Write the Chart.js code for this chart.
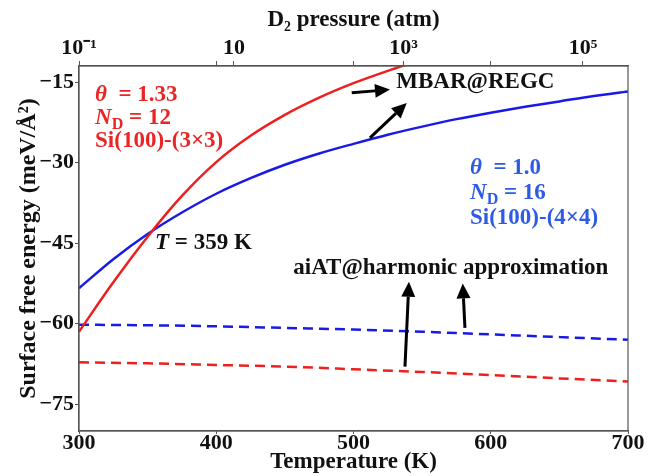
<!DOCTYPE html>
<html>
<head>
<meta charset="utf-8">
<script src="https://cdn.jsdelivr.net/npm/chart.js@4.4.1/dist/chart.umd.min.js"></script>
<style>
  html, body { margin: 0; padding: 0; background: #fff; }
  #wrap { width: 660px; height: 476px; position: relative; }
</style>
</head>
<body>
<div id="wrap"><canvas id="myChart"></canvas></div>
<script>
// temperature grid (K)
const tempRed = [300, 325, 350, 375, 400, 425, 450, 475, 500, 525, 550];
const tempBlue = [300, 325, 350, 375, 400, 425, 450, 475, 500, 525, 550, 575, 600, 625, 650, 675, 700];
const tempHarm = [300, 350, 400, 450, 500, 550, 600, 650, 700];

// surface free energy (meV/A^2)
const mbarRed = [-61.5, -52.3, -43.8, -36.2, -29.9, -25.0, -21.1, -17.9, -15.2, -12.9, -10.8];
const mbarBlue = [-53.4, -48.0, -43.3, -39.3, -35.8, -32.9, -30.4, -28.3, -26.5, -24.8, -23.3, -21.9, -20.7, -19.6, -18.6, -17.6, -16.75];
const harmBlue = [-60.2, -60.3, -60.5, -60.8, -61.1, -61.5, -62.0, -62.5, -63.0];
const harmRed = [-67.2, -67.4, -67.7, -68.0, -68.5, -69.0, -69.6, -70.2, -70.8];

// axis ticks
const tempTicks = [300, 400, 500, 600, 700];
const energyTicks = [-15, -30, -45, -60, -75];
const pressureAtT = [300, 412.9, 536.4, 667.2];
const pressureLabels = ['10\u207B\u00B9', '10', '10\u00B3', '10\u2075'];

const RED = '#ee1f1f';
const BLUE = '#1a1ae6';
const RED_TXT = '#ea2525';
const BLUE_TXT = '#2d5be3';
const FONT = "'Liberation Serif', 'Times New Roman', serif";

const pts = (xs, ys) => xs.map((t, i) => ({ x: t, y: ys[i] }));

// annotation positions in data units (T, E)
const notes = [
  { T: 311.7, E: -17.4, color: RED_TXT, parts: [{ t: '\u03B8', it: true }, { t: '  = 1.33' }] },
  { T: 311.7, E: -21.7, color: RED_TXT, parts: [{ t: 'N', it: true }, { t: 'D', sub: true }, { t: ' = 12' }] },
  { T: 311.7, E: -25.9, color: RED_TXT, parts: [{ t: 'Si(100)-(3\u00D73)' }] },
  { T: 584.9, E: -31.0, color: BLUE_TXT, parts: [{ t: '\u03B8', it: true }, { t: '  = 1.0' }] },
  { T: 584.9, E: -35.6, color: BLUE_TXT, parts: [{ t: 'N', it: true }, { t: 'D', sub: true }, { t: ' = 16' }] },
  { T: 584.9, E: -40.3, color: BLUE_TXT, parts: [{ t: 'Si(100)-(4\u00D74)' }] },
  { T: 355.4, E: -44.9, color: '#111', parts: [{ t: 'T', it: true }, { t: ' = 359 K' }] },
  { T: 531.2, E: -14.9, color: '#111', parts: [{ t: 'MBAR@REGC' }] },
  { T: 456.1, E: -49.6, color: '#111', parts: [{ t: 'aiAT@harmonic approximation' }] }
];
const arrows = [
  [498.7, -17.0, 526.6, -16.4],
  [512.0, -25.4, 538.8, -18.9],
  [537.5, -68.0, 540.4, -52.2],
  [581.2, -60.8, 579.6, -52.5]
];

function drawRich(ctx, x, y, parts, color, size) {
  ctx.fillStyle = color;
  ctx.textBaseline = 'middle';
  ctx.textAlign = 'left';
  let cx = x;
  parts.forEach(p => {
    const s = p.sub ? size * 0.7 : size;
    ctx.font = (p.it ? 'italic ' : '') + 'bold ' + s + 'px ' + FONT;
    ctx.fillText(p.t, cx, p.sub ? y + size * 0.3 : y);
    cx += ctx.measureText(p.t).width;
  });
}

const annotations = {
  id: 'annotations',
  afterDatasetsDraw(chart) {
    const { ctx, chartArea: a, scales: { x, y } } = chart;
    ctx.save();
    // frame
    ctx.strokeStyle = '#555';
    ctx.lineWidth = 1.2;
    ctx.strokeRect(a.left, a.top, a.right - a.left, a.bottom - a.top);

    notes.forEach(n => drawRich(ctx, x.getPixelForValue(n.T), y.getPixelForValue(n.E), n.parts, n.color, 23));

    ctx.strokeStyle = '#000';
    ctx.fillStyle = '#000';
    arrows.forEach(([t0, e0, t1, e1]) => {
      const x0 = x.getPixelForValue(t0), y0 = y.getPixelForValue(e0);
      const x1 = x.getPixelForValue(t1), y1 = y.getPixelForValue(e1);
      const ang = Math.atan2(y1 - y0, x1 - x0);
      const hl = 15, hw = 7;
      const bx = x1 - hl * Math.cos(ang), by = y1 - hl * Math.sin(ang);
      ctx.lineWidth = 3;
      ctx.beginPath();
      ctx.moveTo(x0, y0);
      ctx.lineTo(bx, by);
      ctx.stroke();
      ctx.beginPath();
      ctx.moveTo(x1, y1);
      ctx.lineTo(bx + hw * Math.sin(ang), by - hw * Math.cos(ang));
      ctx.lineTo(bx - hw * Math.sin(ang), by + hw * Math.cos(ang));
      ctx.closePath();
      ctx.fill();
    });
    ctx.restore();
  }
};

const ctx = document.getElementById('myChart');

const lineStyle = { borderWidth: 2.5, tension: 0.4, cubicInterpolationMode: 'monotone', pointRadius: 0, fill: false };

const chart = new Chart(ctx, {
  type: 'line',
  data: {
    datasets: [
      { label: 'MBAR 1.33', data: pts(tempRed, mbarRed), borderColor: RED, ...lineStyle },
      { label: 'MBAR 1.0', data: pts(tempBlue, mbarBlue), borderColor: BLUE, ...lineStyle },
      { label: 'aiAT 1.0', data: pts(tempHarm, harmBlue), borderColor: BLUE, borderDash: [10, 6], ...lineStyle },
      { label: 'aiAT 1.33', data: pts(tempHarm, harmRed), borderColor: RED, borderDash: [10, 6], ...lineStyle }
    ]
  },
  options: {
    responsive: true,
    maintainAspectRatio: false,
    animation: false,
    devicePixelRatio: 1,
    layout: { padding: { left: 0, right: 32, top: 0, bottom: 0 } },
    plugins: { legend: { display: false }, tooltip: { enabled: false } },
    scales: {
      x: {
        type: 'linear', position: 'bottom', min: 300, max: 700,
        afterBuildTicks: s => { s.ticks = tempTicks.map(v => ({ value: v })); },
        afterFit: s => { s.height = 45; },
        border: { color: '#555', width: 1.2 },
        grid: { display: true, drawOnChartArea: false, tickLength: 3, color: '#555' },
        ticks: { color: '#111', padding: -4, maxRotation: 0, font: { family: FONT, weight: 'bold', size: 22 } },
        title: { display: true, text: 'Temperature (K)', color: '#111', padding: { top: -6, bottom: 0 }, font: { family: FONT, weight: 'bold', size: 23 } }
      },
      x2: {
        type: 'linear', position: 'top', min: 300, max: 700,
        afterBuildTicks: s => {
          s.ticks = pressureAtT.concat([400, 500, 600]).map(v => ({ value: v }));
        },
        afterFit: s => { s.height = 66; },
        border: { color: '#555', width: 1.2 },
        grid: { display: true, drawOnChartArea: false, tickLength: 5, color: '#555' },
        ticks: {
          color: '#111', padding: -1, maxRotation: 0, autoSkip: false,
          font: { family: FONT, weight: 'bold', size: 22 },
          callback: v => {
            const i = pressureAtT.indexOf(v);
            return i >= 0 ? pressureLabels[i] : '';
          }
        },
        title: { display: true, text: 'D\u2082 pressure (atm)', color: '#111', padding: { top: 6, bottom: 0 }, font: { family: FONT, weight: 'bold', size: 23 } }
      },
      y: {
        type: 'linear', min: -80, max: -12,
        afterBuildTicks: s => { s.ticks = energyTicks.map(v => ({ value: v })); },
        afterFit: s => { s.width = 79; },
        border: { color: '#555', width: 1.2 },
        grid: { display: true, drawOnChartArea: false, tickLength: 4, color: '#555' },
        ticks: {
          color: '#111', padding: 1, font: { family: FONT, weight: 'bold', size: 22 },
          callback: v => '\u2212' + Math.abs(v)
        },
        title: { display: true, text: 'Surface free energy (meV/\u00C5\u00B2)', color: '#111', padding: { top: 14, bottom: 0 }, font: { family: FONT, weight: 'bold', size: 24 } }
      }
    }
  },
  plugins: [annotations]
});
</script>
</body>
</html>
